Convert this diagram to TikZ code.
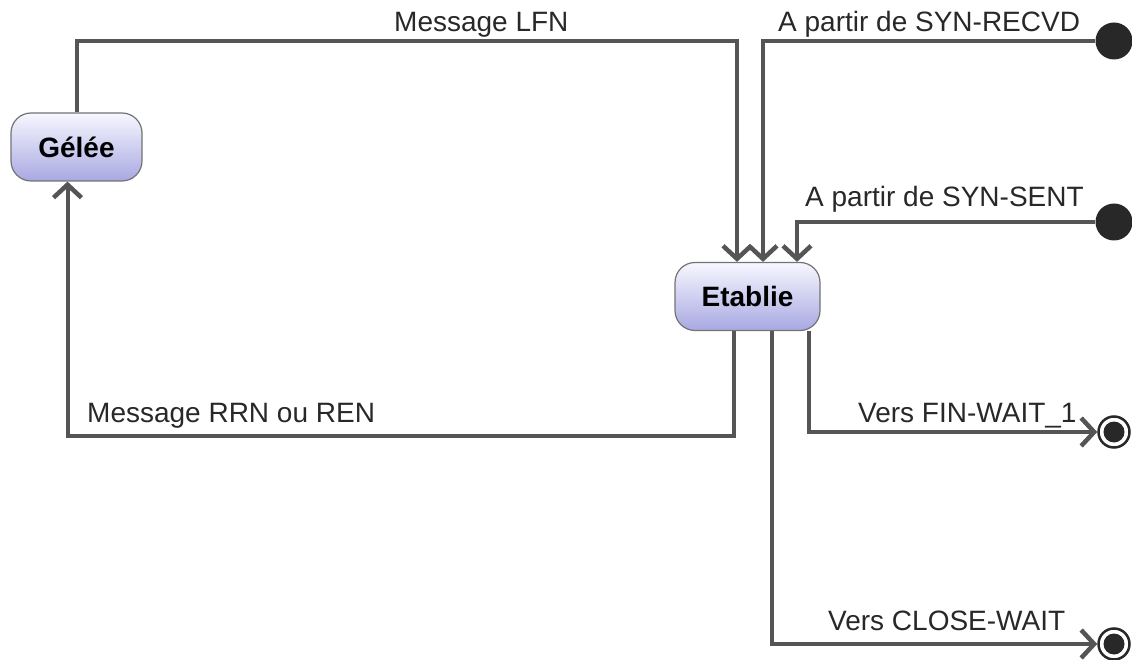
\documentclass[tikz,border=0pt]{standalone}
\usepackage{fontspec}
\setmainfont{Liberation Sans}
\usetikzlibrary{arrows.meta}
\definecolor{statetop}{RGB}{247,247,255}
\definecolor{statebot}{RGB}{168,168,226}
\definecolor{edge}{RGB}{85,85,85}
\definecolor{ink}{RGB}{40,40,40}
\begin{document}
\begin{tikzpicture}[x=1pt,y=-1pt,
  state/.style={draw=black!55, line width=1.2pt, rounded corners=20pt,
    top color=statetop, bottom color=statebot, minimum height=68pt,
    inner sep=0pt, text=black, font=\fontsize{28}{31}\selectfont\bfseries},
  flow/.style={draw=edge, line width=4pt,
    -{Straight Barb[length=13pt,width=28pt,line width=4.5pt]}},
  lbl/.style={anchor=base west, inner sep=0pt, text=ink,
    font=\fontsize{28}{31}\selectfont},
  startdot/.style={circle, fill=ink, minimum size=37pt, inner sep=0pt},
  enddot/.style={circle, draw=ink, line width=2.5pt, fill=white,
    minimum size=31pt, inner sep=0pt,
    path picture={\fill[ink] (path picture bounding box.center) circle (10.5pt);}},
]
\useasboundingbox (0,0) rectangle (1132,660);

% states
\node[state, minimum width=131pt] (gelee) at (76.5,147) {Gélée};
\node[state, minimum width=145pt] (etablie) at (747.5,296.5) {Etablie};

% pseudo-states
\node[startdot] (synrecvd) at (1114,41) {};
\node[startdot] (synsent) at (1114,222) {};
\node[enddot] (finwait) at (1114,432) {};
\node[enddot] (closewait) at (1114,644) {};

% attachment points on the states
\coordinate (inA) at ([xshift=-10.5pt]etablie.north);
\coordinate (inB) at ([xshift=15.5pt]etablie.north);
\coordinate (inC) at ([xshift=49.5pt]etablie.north);
\coordinate (outA) at ([xshift=-13.5pt]etablie.south);
\coordinate (outB) at ([xshift=24.5pt]etablie.south);
\coordinate (outC) at ([xshift=61.5pt]etablie.south);
\coordinate (gin) at ([xshift=-9pt]gelee.south);
\coordinate (lowrail) at (0,436);

% transitions
\draw[flow] (gelee.north) |- (inA |- synrecvd) -- (inA);
\draw[flow] (synrecvd) -| (inB);
\draw[flow] (synsent) -| (inC);
\draw[flow] (outA) |- (gin |- lowrail) -- (gin);
\draw[flow] (outC) |- (finwait);
\draw[flow] (outB) |- (closewait);

% transition labels
\node[lbl] (lfn) at (394,32) {Message LFN};
\node[lbl] (fromrecvd) at (778,32) {A partir de SYN-RECVD};
\node[lbl] (fromsent) at (805,207) {A partir de SYN-SENT};
\node[lbl] (rrn) at (87,422) {Message RRN ou REN};
\node[lbl] (tofin) at (858,422) {Vers FIN-WAIT\_1};
\node[lbl] (toclose) at (828,630) {Vers CLOSE-WAIT};
\end{tikzpicture}
\end{document}
